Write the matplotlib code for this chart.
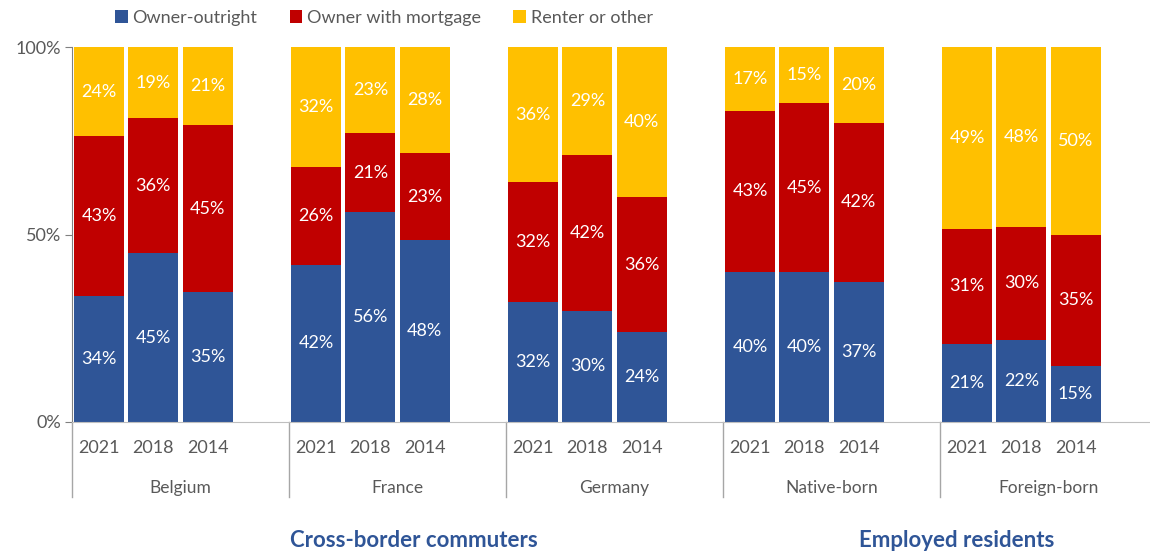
"""
Housing tenure of cross-border commuters and employed residents, by survey year.
"""
import numpy as np
import matplotlib.pyplot as plt
from matplotlib.patches import Patch

plt.rcParams['font.family'] = ['Lato', 'DejaVu Sans']

groups = ['Belgium', 'France', 'Germany', 'Native-born', 'Foreign-born']
years = ['2021', '2018', '2014']
series = ['Owner-outright', 'Owner with mortgage', 'Renter or other']

# percentages per group, in year order 2021, 2018, 2014
owner_outright = [[34, 45, 35], [42, 56, 48], [32, 30, 24], [40, 40, 37], [21, 22, 15]]
owner_mortgage = [[43, 36, 45], [26, 21, 23], [32, 42, 36], [43, 45, 42], [31, 30, 35]]
renter_other = [[24, 19, 21], [32, 23, 28], [36, 29, 40], [17, 15, 20], [49, 48, 50]]

populations = [('Cross-border commuters', 0, 3), ('Employed residents', 3, 5)]

colors = ['#2F5597', '#C00000', '#FFC000']
grey = '#595959'
slots = 4  # three years plus one empty slot per group

W, H, DPI = 1150, 559, 100
fig = plt.figure(figsize=(W / DPI, H / DPI), dpi=DPI)
ax = fig.add_axes([72 / W, (559 - 422) / H, 1085 / W, 375 / H])

values = np.array([owner_outright, owner_mortgage, renter_other], dtype=float)
totals = values.sum(axis=0)
shares = values / totals * 100

for g in range(len(groups)):
    x = g * slots + np.arange(len(years)) + 0.5
    bottom = np.zeros(len(years))
    for s in range(len(series)):
        h = shares[s, g]
        ax.bar(x, h, bottom=bottom, width=0.92, color=colors[s], edgecolor='none')
        for xi, b, hi, v in zip(x, bottom, h, values[s, g]):
            ax.text(xi, b + hi / 2, f'{v:.0f}%', ha='center', va='center',
                    color='white', fontsize=13)
        bottom = bottom + h

ax.set_xlim(0, slots * len(groups))
ax.set_ylim(0, 100)
ax.set_yticks([0, 50, 100])
ax.set_yticklabels(['0%', '50%', '100%'])
ax.tick_params(axis='y', colors='#808080', labelcolor=grey, labelsize=13,
               length=5, direction='out', pad=3)
ax.set_xticks([])
for side in ['top', 'right']:
    ax.spines[side].set_visible(False)
ax.spines['left'].set_color('#808080')
ax.spines['bottom'].set_color('#BFBFBF')

# year and group labels under the axis, with group separators
for g, name in enumerate(groups):
    for i, yr in enumerate(years):
        ax.text(g * slots + i + 0.5, -7, yr, ha='center', va='center',
                color=grey, fontsize=13)
    ax.text(g * slots + slots / 2, -17.5, name, ha='center', va='center',
            color=grey, fontsize=12.5)
    ax.plot([g * slots] * 2, [0, -20], color='#A6A6A6', lw=1, clip_on=False)

for label, g0, g1 in populations:
    xc = (g0 * slots + g1 * slots) / 2 + 0.3
    ax.text(xc, -31.5, label, ha='center', va='center', color='#2F5597',
            fontsize=16, fontweight='bold')

handles = [Patch(facecolor=c, edgecolor='none') for c in colors]
fig.legend(handles, series, loc='center', bbox_to_anchor=(384 / W, 1 - 18 / H),
           ncol=3, frameon=False, fontsize=13, handlelength=0.7, handleheight=0.7,
           handletextpad=0.25, columnspacing=1.8, labelcolor=grey)

fig.savefig('out.png', dpi=DPI)
